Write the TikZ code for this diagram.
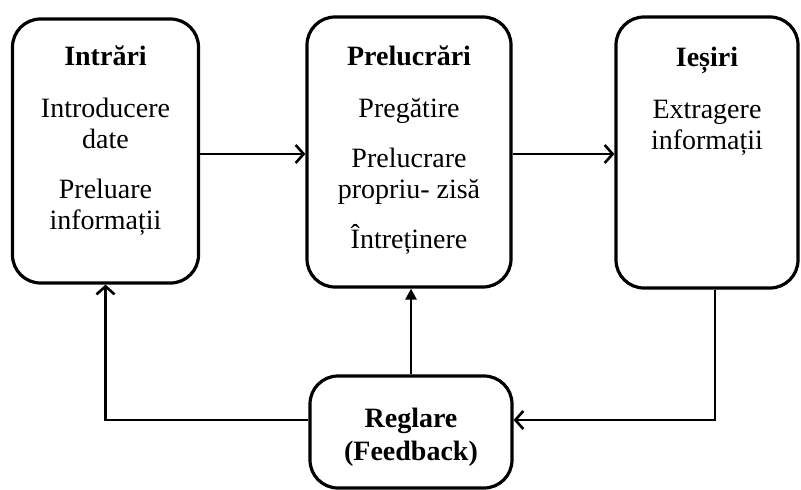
\documentclass[tikz,border=0pt]{standalone}
\usepackage{fontspec}
\setmainfont{Liberation Serif}
\usetikzlibrary{arrows.meta}
\usetikzlibrary{positioning}

\tikzset{
  bloc/.style={draw, line width=3.2pt, rounded corners=28pt, inner sep=0pt},
  txt/.style={align=center, inner sep=0pt, font=\fontsize{28}{31}\selectfont},
  arr/.style={line width=2.6pt, -{Straight Barb[length=8pt,width=18pt]}},
  arrf/.style={line width=2.6pt, -{Triangle[length=11pt,width=11pt]}},
}

\begin{document}
\begin{tikzpicture}[x=1pt,y=-1pt]
            \useasboundingbox (0,0) rectangle (801,490);

            % Draw the boxes
            \node[bloc, minimum width=186pt, minimum height=264pt] (intr) at (105.5,151) {};
            \node[bloc, minimum width=204pt, minimum height=270pt] (prel) at (409,152) {};
            \node[bloc, minimum width=182pt, minimum height=271pt] (iesi) at (707,152.5) {};
            \node[bloc, minimum width=202pt, minimum height=112pt] (regl) at (411,432) {};

            % Texts of the boxes
            \node[txt, below=28.5pt of intr.north] (intrt) {\textbf{Intrări}\\[21pt] Introducere\\ date\\[19pt] Preluare\\ informații};
            \node[txt, below=30.5pt of prel.north] (prelt) {\textbf{Prelucrări}\\[21pt] Pregătire\\[19pt] Prelucrare\\ propriu- zisă\\[19pt] Întreținere};
            \node[txt, below=31pt of iesi.north] (iesit) {\textbf{Ieșiri}\\[21pt] Extragere\\ informații};
            \node[txt, font=\bfseries\fontsize{28}{33}\selectfont] (reglt) at ([yshift=-5pt]regl.center) {Reglare\\ (Feedback)};

            % Draw the forward arrows
            \draw[arr] ([yshift=-3pt]intr.east) -- ([yshift=-3pt]intr.east -| prel.west);
            \draw[arr] ([yshift=-2pt]prel.east) -- ([yshift=-2pt]prel.east -| iesi.west);

            % Draw the feedback loop
            \coordinate (fb) at (715,420);
            \draw[arr] (iesi.south -| fb) |- (regl.east |- fb);
            \draw[arr] (regl.west |- fb) -| (intr.south);
            \draw[arrf] (regl.north) -- (regl.north |- prel.south);

        \end{tikzpicture}
\end{document}
